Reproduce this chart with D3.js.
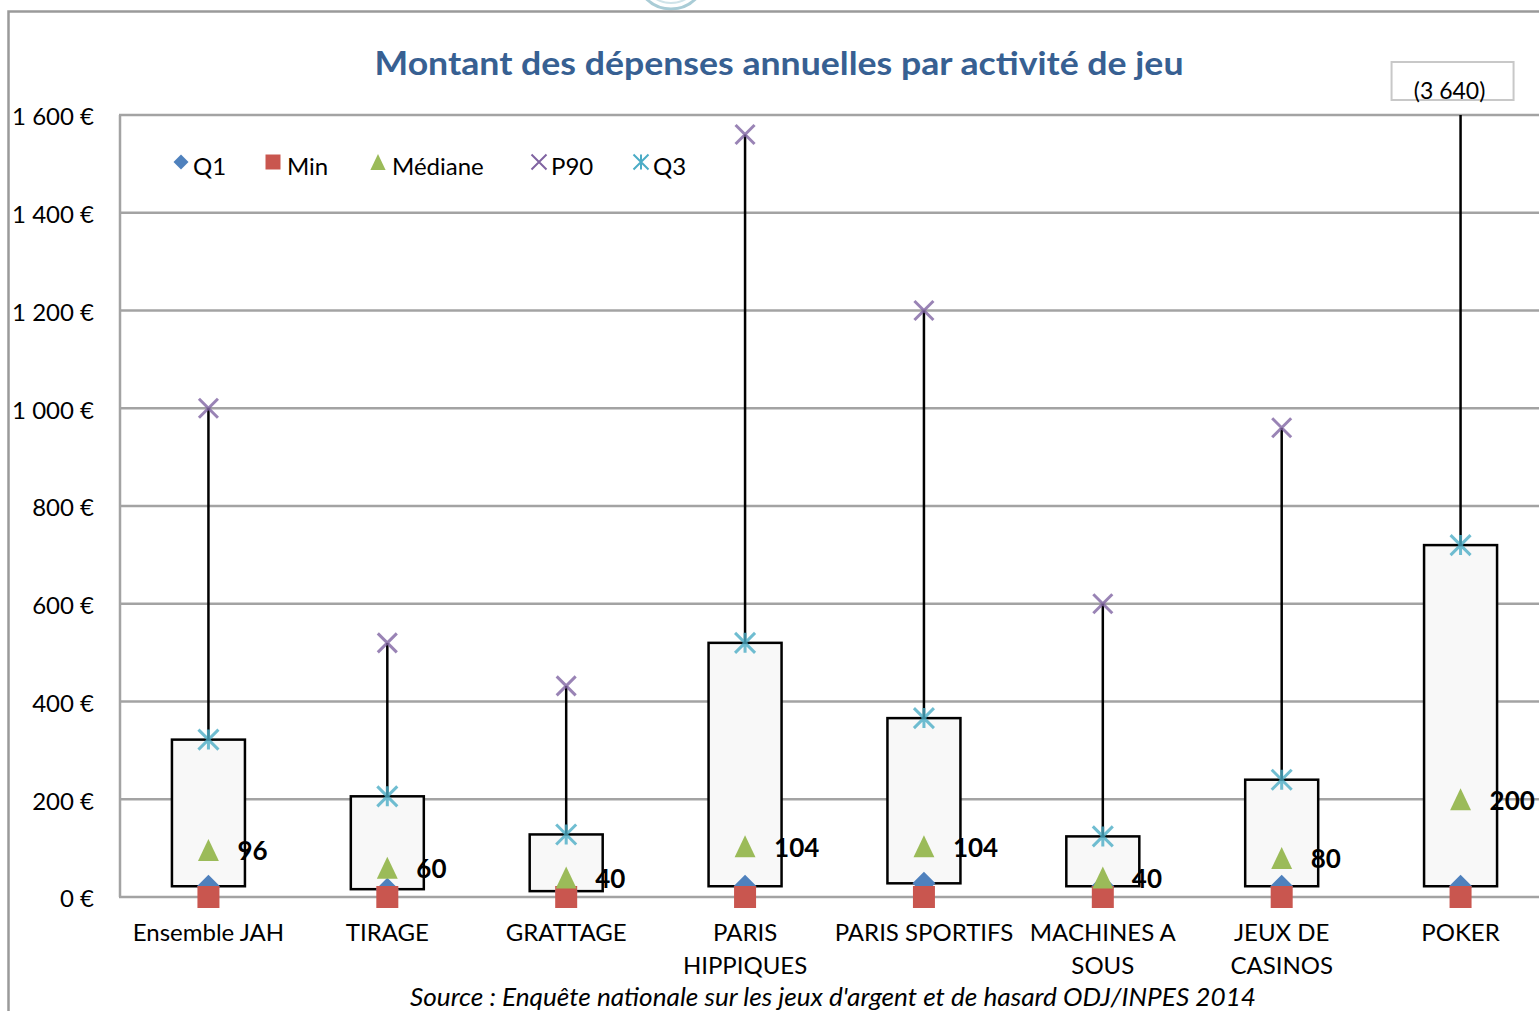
<!DOCTYPE html>
<html>
<head>
<meta charset="utf-8">
<script src="https://cdn.jsdelivr.net/npm/d3@7"></script>
<style>
  body { margin: 0; background: #fff; }
  svg { display: block; font-family: Lato, "Open Sans", sans-serif; }
</style>
</head>
<body>
<div id="chart"></div>
<script>
// data (euros per year)
var categories = ["Ensemble JAH", "TIRAGE", "GRATTAGE", "PARIS HIPPIQUES",
                  "PARIS SPORTIFS", "MACHINES A SOUS", "JEUX DE CASINOS", "POKER"];
var categoryLines = [["Ensemble JAH"], ["TIRAGE"], ["GRATTAGE"], ["PARIS", "HIPPIQUES"],
                     ["PARIS SPORTIFS"], ["MACHINES A", "SOUS"], ["JEUX DE", "CASINOS"], ["POKER"]];
var minVals = [0, 0, 0, 0, 0, 0, 0, 0];
var q1Vals = [22, 16, 12, 22, 28, 22, 22, 22];
var medianVals = [96, 60, 40, 104, 104, 40, 80, 200];
var q3Vals = [322, 206, 128, 520, 366, 124, 240, 720];
var p90Vals = [1000, 520, 432, 1560, 1200, 600, 960, 3640];
var yTicks = [0, 200, 400, 600, 800, 1000, 1200, 1400, 1600];
var seriesNames = ["Q1", "Min", "Médiane", "P90", "Q3"];

var width = 1539, height = 1011;
var colors = {Q1: "#4f81bd", Min: "#c9564f", "Médiane": "#9bbb59", P90: "#8064a2", Q3: "#4bacc6"};

var fr = d3.formatLocale({decimal: ",", thousands: " ", grouping: [3], currency: ["", " €"]});
var fmtEuro = fr.format("$,.0f");
var fmtNum = fr.format(",.0f");

// Excel-like marker shapes (size = width in px here)
var wideDiamond = {draw: function(ctx, s) {
  var r = s / 2;
  ctx.moveTo(0, -r); ctx.lineTo(r, 0); ctx.lineTo(0, r); ctx.lineTo(-r, 0); ctx.closePath();
}};
var square = {draw: function(ctx, s) { var r = s / 2; ctx.rect(-r, -r, s, s); }};
var tallTriangle = {draw: function(ctx, s) {
  var r = s / 2;
  ctx.moveTo(0, -r); ctx.lineTo(r * 0.95, r); ctx.lineTo(-r * 0.95, r); ctx.closePath();
}};
var cross = {draw: function(ctx, s) {
  var r = s / 2;
  ctx.moveTo(-r, -r); ctx.lineTo(r, r); ctx.moveTo(r, -r); ctx.lineTo(-r, r);
}};
var star = {draw: function(ctx, s) {
  var r = s / 2;
  ctx.moveTo(-r, -r); ctx.lineTo(r, r); ctx.moveTo(r, -r); ctx.lineTo(-r, r);
  ctx.moveTo(0, -r); ctx.lineTo(0, r);
}};

var svg = d3.select("#chart").append("svg")
  .attr("width", width)
  .attr("height", height);

svg.append("rect").attr("width", width).attr("height", height).attr("fill", "#fff");

// bit of the logo cut at the top
svg.append("circle").attr("cx", 671).attr("cy", -26).attr("r", 35)
  .attr("fill", "none").attr("stroke", "#a9ccd6").attr("stroke-width", 3);
svg.append("circle").attr("cx", 671).attr("cy", -26).attr("r", 29)
  .attr("fill", "none").attr("stroke", "#cfe3e9").attr("stroke-width", 2);

// chart frame
svg.append("path")
  .attr("d", "M8.5," + height + " L8.5,11.5 L" + width + ",11.5")
  .attr("fill", "none").attr("stroke", "#9a9a9a").attr("stroke-width", 2.5);

var x = d3.scaleBand().domain(categories).range([119, 1550]).padding(0);
var y = d3.scaleLinear().domain([0, 1600]).range([897, 115]);

var rows = categories.map(function(c, i) {
  return {cat: c, lines: categoryLines[i], min: minVals[i], q1: q1Vals[i],
          med: medianVals[i], q3: q3Vals[i], p90: p90Vals[i]};
});

// title
svg.append("text")
  .attr("x", 779).attr("y", 75)
  .attr("text-anchor", "middle")
  .attr("font-size", 33).attr("font-weight", "bold")
  .attr("fill", "#376092")
  .attr("textLength", 809).attr("lengthAdjust", "spacingAndGlyphs")
  .text("Montant des dépenses annuelles par activité de jeu");

// gridlines
svg.append("g").selectAll("line")
  .data(yTicks).enter().append("line")
  .attr("x1", 119).attr("x2", 1550)
  .attr("y1", function(d) { return y(d); })
  .attr("y2", function(d) { return y(d); })
  .attr("stroke", "#a3a3a3").attr("stroke-width", 2.5);

svg.append("line")
  .attr("x1", 120).attr("x2", 120).attr("y1", y(1600)).attr("y2", y(0))
  .attr("stroke", "#a3a3a3").attr("stroke-width", 2.5);

// y tick labels
svg.append("g").selectAll("text")
  .data(yTicks).enter().append("text")
  .attr("x", 94).attr("y", function(d) { return y(d) + 2; })
  .attr("dy", "0.35em").attr("text-anchor", "end")
  .attr("font-size", 24).attr("fill", "#000")
  .text(function(d) { return fmtEuro(d); });

// x labels
var xl = svg.append("g").selectAll("text")
  .data(rows).enter().append("text")
  .attr("x", function(d) { return x(d.cat) + x.bandwidth() / 2; })
  .attr("y", 941)
  .attr("text-anchor", "middle")
  .attr("font-size", 24).attr("fill", "#000");
xl.selectAll("tspan")
  .data(function(d) { return d.lines.map(function(l) { return {l: l, x: x(d.cat) + x.bandwidth() / 2}; }); })
  .enter().append("tspan")
  .attr("x", function(d) { return d.x; })
  .attr("dy", function(d, i) { return i === 0 ? 0 : 33; })
  .text(function(d) { return d.l; });

// plot clip (poker P90 is off the scale)
svg.append("clipPath").attr("id", "plotclip")
  .append("rect").attr("x", 100).attr("y", y(1600)).attr("width", 1500).attr("height", 830);

var plot = svg.append("g").attr("clip-path", "url(#plotclip)");
var cx = function(d) { return x(d.cat) + x.bandwidth() / 2; };
var boxW = 73;

// high-low lines
plot.selectAll(".hl").data(rows).enter().append("line")
  .attr("x1", cx).attr("x2", cx)
  .attr("y1", function(d) { return y(d.p90); })
  .attr("y2", function(d) { return y(d.min); })
  .attr("stroke", "#000").attr("stroke-width", 2.5);

// boxes Q1 -> Q3
plot.selectAll(".box").data(rows).enter().append("rect")
  .attr("x", function(d) { return cx(d) - boxW / 2; })
  .attr("y", function(d) { return y(d.q3); })
  .attr("width", boxW)
  .attr("height", function(d) { return y(d.q1) - y(d.q3); })
  .attr("fill", "#f8f8f8").attr("stroke", "#000").attr("stroke-width", 2.5);

// markers
var symbols = {
  Q1: {type: wideDiamond, size: 23, legend: 15, fill: true},
  Min: {type: square, size: 22, legend: 15, fill: true},
  "Médiane": {type: tallTriangle, size: 22, legend: 16, fill: true},
  P90: {type: cross, size: 19, legend: 15, fill: false},
  Q3: {type: star, size: 20, legend: 15, fill: false}
};
var keyOf = {Q1: "q1", Min: "min", "Médiane": "med", P90: "p90", Q3: "q3"};

seriesNames.forEach(function(s) {
  var sym = symbols[s];
  plot.append("g").selectAll("path")
    .data(rows).enter().append("path")
    .attr("transform", function(d) {
      return "translate(" + cx(d) + "," + y(d[keyOf[s]]) + ")";
    })
    .attr("d", d3.symbol().type(sym.type).size(sym.size))
    .attr("fill", sym.fill ? colors[s] : "none")
    .attr("stroke", sym.fill ? "none" : colors[s])
    .attr("stroke-width", 3)
    .attr("opacity", sym.fill ? 1 : 0.8);
});

// median labels
svg.append("g").selectAll("text")
  .data(rows).enter().append("text")
  .attr("x", function(d) { return cx(d) + 29; })
  .attr("y", function(d) { return y(d.med); })
  .attr("dy", "0.4em")
  .attr("font-size", 26).attr("font-weight", "bold").attr("fill", "#000")
  .text(function(d) { return d.med; });

// off-scale label for poker P90
var poker = rows[rows.length - 1];
svg.append("rect")
  .attr("x", cx(poker) - 69).attr("y", 62)
  .attr("width", 122).attr("height", 38)
  .attr("fill", "#fff").attr("stroke", "#c8c8c8").attr("stroke-width", 2);
svg.append("text")
  .attr("x", cx(poker) - 11).attr("y", 99)
  .attr("text-anchor", "middle")
  .attr("font-size", 23).attr("fill", "#000")
  .text("(" + fmtNum(poker.p90) + ")");

// legend
var legendX = [181, 273, 378, 539, 641];
var legend = svg.append("g").selectAll("g")
  .data(seriesNames).enter().append("g")
  .attr("transform", function(d, i) { return "translate(" + legendX[i] + ",164)"; });
legend.append("path")
  .attr("d", function(d) { return d3.symbol().type(symbols[d].type).size(symbols[d].legend)(); })
  .attr("transform", "translate(0,-2)")
  .attr("fill", function(d) { return symbols[d].fill ? colors[d] : "none"; })
  .attr("stroke", function(d) { return symbols[d].fill ? "none" : colors[d]; })
  .attr("stroke-width", 2);
legend.append("text")
  .attr("x", function(d) { return d === "Min" || d === "Médiane" ? 14 : 12; })
  .attr("y", 11)
  .attr("font-size", 24).attr("fill", "#000")
  .text(function(d) { return d; });

// source
svg.append("text")
  .attr("x", 833).attr("y", 1006)
  .attr("text-anchor", "middle")
  .attr("font-size", 25).attr("font-style", "italic").attr("fill", "#000")
  .attr("textLength", 846).attr("lengthAdjust", "spacingAndGlyphs")
  .text("Source : Enquête nationale sur les jeux d'argent et de hasard ODJ/INPES 2014");
</script>
</body>
</html>
